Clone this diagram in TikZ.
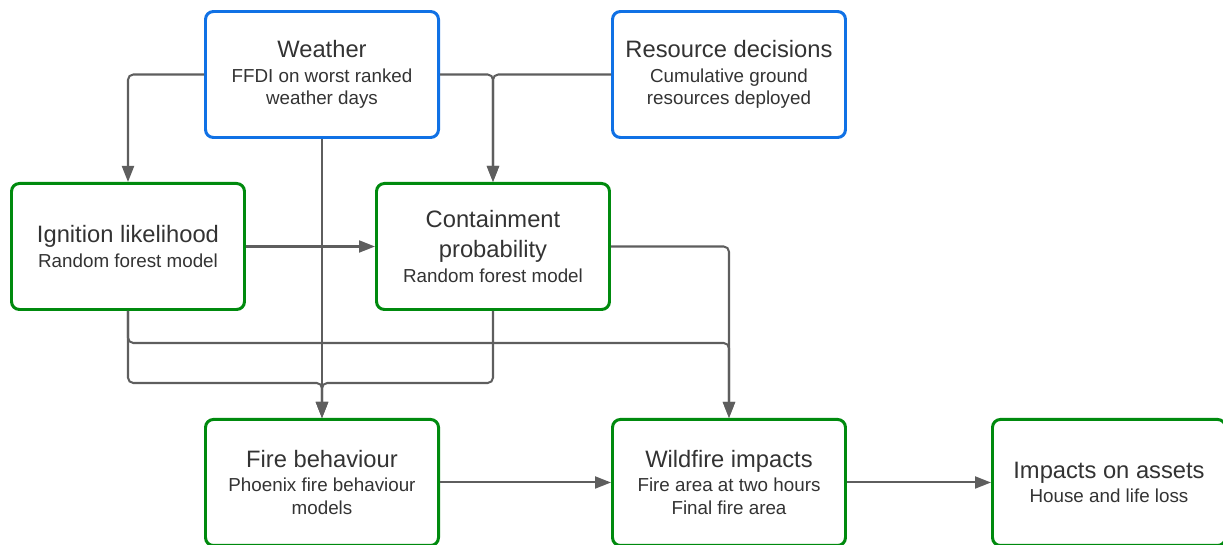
\documentclass[tikz,border=0pt]{standalone}
\usepackage{fontspec}
\setmainfont{Liberation Sans}
\usepackage{xcolor}
\usetikzlibrary{positioning, arrows.meta}
\definecolor{boxblue}{HTML}{1071E5}
\definecolor{boxgreen}{HTML}{008A0E}
\definecolor{linegrey}{HTML}{5E5E5E}
\definecolor{textgrey}{HTML}{333333}
\newcommand{\boxtitle}[1]{{\fontsize{13.5}{16.5}\selectfont #1}}

\begin{document}
\begin{tikzpicture}[
    block/.style={draw, rounded corners=4.5pt, line width=1.7pt, fill=white,
                  minimum width=4.66cm, minimum height=2.52cm, inner sep=0pt,
                  align=center, text=textgrey, font=\fontsize{10.7}{13}\selectfont},
    input/.style={block, draw=boxblue},
    model/.style={block, draw=boxgreen},
    arr/.style={-{Triangle[length=3.2mm, width=2.4mm]}, line width=1.15pt,
                draw=linegrey, rounded corners=3pt}
  ]
    \useasboundingbox (0,0) rectangle (24.46,-10.88);
    % Inputs
    \node[input] (weather) at (6.44,-1.49)
          {\boxtitle{Weather}\\[1pt]FFDI on worst ranked\\weather days};
    \node[input, right=3.42cm of weather] (resource)
          {\boxtitle{Resource decisions}\\[1pt]Cumulative ground\\resources deployed};
    % Models
    \node[model, below=0.86cm of weather, xshift=-3.88cm] (ignition)
          {\boxtitle{Ignition likelihood}\\[1pt]Random forest model};
    \node[model, right=2.58cm of ignition] (containment)
          {\boxtitle{Containment}\\[4pt]\boxtitle{probability}\\[1pt]Random forest model};
    % Outcomes
    \node[model, below=2.14cm of ignition, xshift=3.88cm] (fire)
          {\boxtitle{Fire behaviour}\\[1pt]Phoenix fire behaviour\\models};
    \node[model, right=3.42cm of fire] (wildfire)
          {\boxtitle{Wildfire impacts}\\[1pt]Fire area at two hours\\Final fire area};
    \node[model, right=2.88cm of wildfire] (assets)
          {\boxtitle{Impacts on assets}\\[1pt]House and life loss};
    % Arrows --- inputs to models
    \draw[arr] (weather.west) -| (ignition.north);
    \draw[arr] (weather.east) -| (containment.north);
    \draw[arr] (resource.west) -| (containment.north);
    \draw[arr] (weather.south) -- (fire.north);
    \draw[arr] (ignition.east) -- (containment.west);
    % Models to outcomes
    \draw[arr] (containment.east) -| (wildfire.north);
    \draw[arr] (ignition.south) -- ++(0,-0.64) -| (wildfire.north);
    \draw[arr] (ignition.south) -- ++(0,-1.44) -| (fire.north);
    \draw[arr] (containment.south) -- ++(0,-1.44) -| (fire.north);
    % Outcome chain
    \draw[arr] (fire.east) -- (wildfire.west);
    \draw[arr] (wildfire.east) -- (assets.west);
\end{tikzpicture}
\end{document}
